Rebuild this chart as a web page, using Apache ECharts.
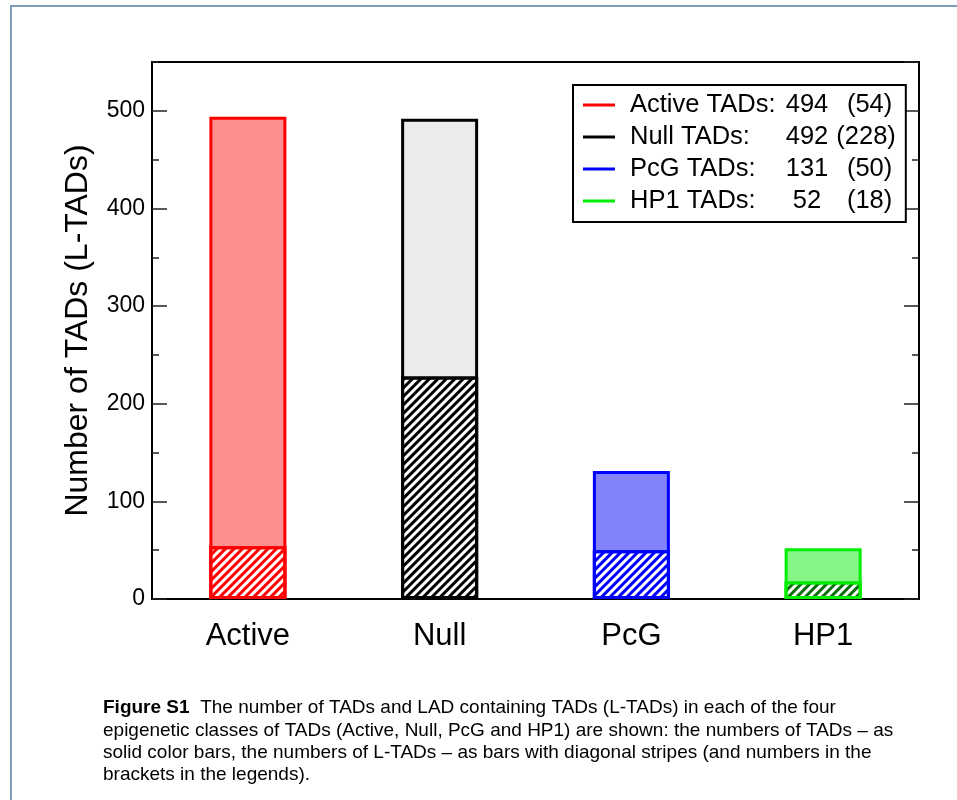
<!DOCTYPE html>
<html>
<head>
<meta charset="utf-8">
<script src="https://cdn.jsdelivr.net/npm/echarts@6/dist/echarts.min.js"></script>
<style>
html,body{margin:0;padding:0;background:#fff;}
#chart{width:957px;height:800px;}
</style>
</head>
<body>
<div id="chart"></div>
<script>
// ---- data ----
const categories = ['Active', 'Null', 'PcG', 'HP1'];
const totalTADs = [494, 492, 131, 52];
const lamTADs = [54, 228, 50, 18];
const legendLabels = ['Active TADs:', 'Null TADs:', 'PcG TADs:', 'HP1 TADs:'];
const yTicks = [0, 100, 200, 300, 400, 500];

// ---- styles ----
const borderColors = ['#ff0000', '#000000', '#0000ff', '#00ee00'];
const fillColors = ['#ff8f8f', '#ebebeb', '#8282fa', '#86f586'];
const stripeColors = ['#ff0000', '#000000', '#0000ff', '#0a6e0a'];
const FONT = 'Liberation Sans, Arial, sans-serif';

const chart = echarts.init(document.getElementById('chart'));

const totalData = totalTADs.map((v, i) => ({
  value: v,
  itemStyle: { color: fillColors[i], borderColor: borderColors[i], borderWidth: 3 }
}));
const lamData = lamTADs.map((v, i) => ({
  value: v,
  itemStyle: {
    color: '#ffffff', borderColor: borderColors[i], borderWidth: 3,
    decal: { symbol: 'rect', symbolSize: 1, dashArrayX: [1, 0], dashArrayY: [3, 3], rotation: -Math.PI / 4, color: stripeColors[i] }
  }
}));

const legendSeries = categories.map((c, i) => ({
  name: c, type: 'line', data: [], color: borderColors[i],
  lineStyle: { color: borderColors[i] }, itemStyle: { color: borderColors[i] }
}));

function yAxisDef(pos, interval, tickLen, withLabels) {
  return {
    type: 'value', position: pos, min: 0, max: 550, interval: interval,
    axisLine: { show: false },
    axisTick: { show: true, inside: true, length: tickLen, lineStyle: { color: '#222', width: 1.5 } },
    splitLine: { show: false },
    axisLabel: withLabels ? {
      show: true, fontSize: 23, fontFamily: FONT, color: '#000', margin: 7, showMaxLabel: false,
      formatter: v => (yTicks.indexOf(v) >= 0 ? String(v) : '')
    } : { show: false },
    name: withLabels ? 'Number of TADs (L-TADs)' : '',
    nameLocation: 'middle', nameGap: 58,
    nameTextStyle: { fontSize: 32, fontFamily: FONT, color: '#000' }
  };
}

const option = {
  animation: false,
  backgroundColor: '#fff',
  title: {
    left: 103, top: 697, padding: 0,
    text: '{b|Figure S1}  The number of TADs and LAD containing TADs (L-TADs) in each of the four\n' +
      'epigenetic classes of TADs (Active, Null, PcG and HP1) are shown: the numbers of TADs \u2013 as\n' +
      'solid color bars, the numbers of L-TADs \u2013 as bars with diagonal stripes (and numbers in the\n' +
      'brackets in the legends).',
    textStyle: {
      fontSize: 19, fontWeight: 'normal', fontFamily: FONT, color: '#000', lineHeight: 22.3,
      rich: { b: { fontWeight: 'bold', fontSize: 19, fontFamily: FONT, lineHeight: 22.3 } }
    }
  },
  graphic: [{
    type: 'rect', silent: true,
    shape: { x: 11, y: 6, width: 1000, height: 1000 },
    style: { fill: 'none', stroke: '#7f9cba', lineWidth: 2 }
  }],
  grid: {
    left: 152, top: 62, right: 38, bottom: 201,
    show: true, borderColor: '#000', borderWidth: 2, backgroundColor: 'transparent'
  },
  legend: {
    orient: 'vertical', left: 573, top: 85,
    padding: [7, 10, 8, 10], itemGap: 6,
    icon: 'rect', itemWidth: 32, itemHeight: 3,
    borderColor: '#000', borderWidth: 2, backgroundColor: '#fff',
    selectedMode: false,
    data: categories,
    formatter: name => {
      const i = categories.indexOf(name);
      const gap = String(lamTADs[i]).length > 2 ? ' ' : '  ';
      return '{a|' + legendLabels[i] + '}{b|' + totalTADs[i] + '}{c|' + gap + '(' + lamTADs[i] + ')}';
    },
    textStyle: {
      fontSize: 25.5, fontFamily: FONT, color: '#000', lineHeight: 26,
      rich: {
        a: { fontSize: 25.5, fontFamily: FONT, width: 152, padding: [0, 0, 0, 10], lineHeight: 26 },
        b: { fontSize: 25.5, fontFamily: FONT, width: 50, align: 'right', lineHeight: 26 },
        c: { fontSize: 25.5, fontFamily: FONT, width: 61, lineHeight: 26 }
      }
    }
  },
  xAxis: {
    type: 'category', data: categories,
    axisLine: { show: false }, axisTick: { show: false }, splitLine: { show: false },
    axisLabel: { fontSize: 31, fontFamily: FONT, color: '#000', margin: 22 }
  },
  yAxis: [
    yAxisDef('left', 100, 15, true),
    yAxisDef('left', 50, 7, false),
    yAxisDef('right', 100, 15, false),
    yAxisDef('right', 50, 7, false)
  ],
  series: [
    { name: 'TADs', type: 'bar', barWidth: 77, barGap: '-100%', data: totalData, yAxisIndex: 0, z: 2 },
    { name: 'L-TADs', type: 'bar', barWidth: 77, barGap: '-100%', data: lamData, yAxisIndex: 0, z: 3 }
  ].concat(legendSeries)
};
chart.setOption(option);
</script>
</body>
</html>
